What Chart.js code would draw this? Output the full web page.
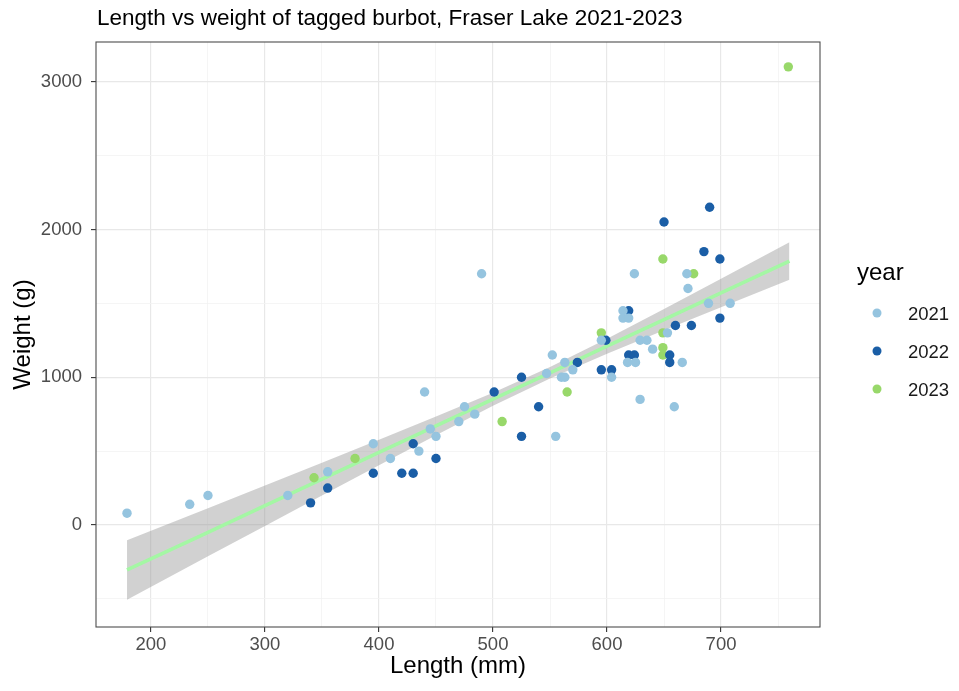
<!DOCTYPE html>
<html>
<head>
<meta charset="utf-8">
<script src="https://cdn.jsdelivr.net/npm/chart.js@4"></script>
<style>
  html, body { margin: 0; padding: 0; background: #fff; }
  #wrap { width: 959px; height: 691px; position: relative; }
</style>
</head>
<body>
<div id="wrap"><canvas id="chart"></canvas></div>
<script>
// points, per year
const x2021 = [179, 234, 250, 320, 355, 395, 410, 435, 440, 445, 450, 470, 475, 484, 490, 547, 552, 555, 560, 563, 563, 570, 595, 604, 614, 614, 619, 618, 625, 624, 629, 629, 635, 640, 653, 659, 666, 670, 671, 689, 708];
const y2021 = [80, 140, 200, 200, 360, 550, 450, 500, 900, 650, 600, 700, 800, 750, 1700, 1025, 1150, 600, 1000, 1000, 1100, 1050, 1250, 1000, 1450, 1400, 1400, 1100, 1100, 1700, 1250, 850, 1250, 1190, 1300, 800, 1100, 1700, 1600, 1500, 1500];
const x2022 = [340, 355, 395, 420, 430, 430, 450, 501, 525, 525, 540, 574, 595, 599, 604, 619, 619, 624, 650, 655, 655, 660, 674, 685, 690, 699, 699];
const y2022 = [150, 250, 350, 350, 350, 550, 450, 900, 600, 1000, 800, 1100, 1050, 1250, 1050, 1450, 1150, 1150, 2050, 1150, 1100, 1350, 1350, 1850, 2150, 1800, 1400];
const x2023 = [343, 379, 508, 565, 595, 649, 649, 649, 649, 676, 759];
const y2023 = [320, 450, 700, 900, 1300, 1800, 1300, 1200, 1150, 1700, 3100];

// smooth line + ribbon
const fitX = [179, 250, 300, 350, 400, 450, 500, 550, 600, 650, 700, 760];
const fitY = [-304, -49, 131, 311, 491, 671, 851, 1030, 1210, 1390, 1570, 1786];
const bandHigh = [-103, 114, 268, 422, 577, 734, 895, 1069, 1261, 1462, 1666, 1913];
const bandLow = [-505, -212, -6, 200, 405, 608, 807, 991, 1159, 1318, 1474, 1659];

const years = ["2021", "2022", "2023"];
const colors = ["#95C4DF", "#1A5EA6", "#98D86A"];

const xTicks = [200, 250, 300, 350, 400, 450, 500, 550, 600, 650, 700, 750];
const yTicks = [-500, 0, 500, 1000, 1500, 2000, 2500, 3000];

const toPts = (xs, ys) => xs.map((x, i) => ({ x: x, y: ys[i] }));

const FONT = "'Liberation Sans', Arial, sans-serif";

const majorX = (v) => v % 100 === 0;
const majorY = (v) => v % 1000 === 0;

const ggExtras = {
  id: "ggExtras",
  afterDraw(chart) {
    const ctx = chart.ctx;
    const a = chart.chartArea;
    ctx.save();
    // panel border
    ctx.strokeStyle = "#4D4D4D";
    ctx.lineWidth = 1.1;
    ctx.strokeRect(a.left, a.top, a.right - a.left, a.bottom - a.top);

    // title
    ctx.fillStyle = "#000";
    ctx.font = "22.5px " + FONT;
    ctx.textAlign = "left";
    ctx.textBaseline = "alphabetic";
    ctx.fillText("Length vs weight of tagged burbot, Fraser Lake 2021-2023", 97, 25);

    // axis titles
    ctx.font = "24px " + FONT;
    ctx.textAlign = "center";
    ctx.fillText("Length (mm)", (a.left + a.right) / 2, 673);
    ctx.save();
    ctx.translate(29.5, (a.top + a.bottom) / 2);
    ctx.rotate(-Math.PI / 2);
    ctx.fillText("Weight (g)", 0, 0);
    ctx.restore();

    // legend
    ctx.textAlign = "left";
    ctx.font = "24px " + FONT;
    ctx.fillText("year", 857, 280);
    ctx.font = "18.5px " + FONT;
    years.forEach((yr, i) => {
      const cy = 313 + i * 38;
      ctx.beginPath();
      ctx.fillStyle = colors[i];
      ctx.arc(877, cy, 4.5, 0, Math.PI * 2);
      ctx.fill();
      ctx.fillStyle = "#1A1A1A";
      ctx.fillText(yr, 908, cy + 7);
    });
    ctx.restore();
  },
};

new Chart(document.getElementById("chart"), {
  type: "scatter",
  data: {
    datasets: [
      ...years.map((yr, i) => ({
        label: yr,
        data: toPts([x2021, x2022, x2023][i], [y2021, y2022, y2023][i]),
        backgroundColor: colors[i],
        borderWidth: 0,
        pointRadius: 4.7,
        pointHoverRadius: 4.7,
        order: 1,
      })),
      {
        type: "line",
        label: "fit",
        data: toPts(fitX, fitY),
        borderColor: "#A4F7A4",
        borderWidth: 3.6,
        pointRadius: 0,
        fill: false,
        order: 2,
      },
      {
        type: "line",
        label: "high",
        data: toPts(fitX, bandHigh),
        borderWidth: 0,
        borderColor: "rgba(0,0,0,0)",
        backgroundColor: "rgba(153,153,153,0.45)",
        pointRadius: 0,
        fill: "+1",
        order: 3,
      },
      {
        type: "line",
        label: "low",
        data: toPts(fitX, bandLow),
        borderWidth: 0,
        borderColor: "rgba(0,0,0,0)",
        pointRadius: 0,
        fill: false,
        order: 4,
      },
    ],
  },
  options: {
    responsive: true,
    maintainAspectRatio: false,
    animation: false,
    layout: { padding: { top: 42, right: 139, left: 0, bottom: 0 } },
    plugins: { legend: { display: false }, tooltip: { enabled: false }, title: { display: false } },
    scales: {
      x: {
        type: "linear",
        min: 151.8,
        max: 786.8,
        afterBuildTicks: (s) => { s.ticks = xTicks.map((v) => ({ value: v })); },
        afterFit: (s) => { s.height = 64; },
        border: { display: false },
        grid: {
          color: (c) => (majorX(c.tick.value) ? "#E8E8E8" : "#F2F2F2"),
          lineWidth: (c) => (majorX(c.tick.value) ? 1.2 : 0.8),
          tickColor: (c) => (majorX(c.tick.value) ? "#333333" : "rgba(0,0,0,0)"),
          tickLength: 5,
          tickWidth: 1.1,
        },
        ticks: {
          color: "#4D4D4D",
          font: { family: FONT, size: 18.5 },
          padding: 2,
          maxRotation: 0,
          autoSkip: false,
          callback: (v) => (majorX(v) ? String(v) : ""),
        },
      },
      y: {
        type: "linear",
        min: -690,
        max: 3268,
        afterBuildTicks: (s) => { s.ticks = yTicks.map((v) => ({ value: v })); },
        afterFit: (s) => { s.width = 96; },
        border: { display: false },
        grid: {
          color: (c) => (majorY(c.tick.value) ? "#E8E8E8" : "#F2F2F2"),
          lineWidth: (c) => (majorY(c.tick.value) ? 1.2 : 0.8),
          tickColor: (c) => (majorY(c.tick.value) ? "#333333" : "rgba(0,0,0,0)"),
          tickLength: 5,
          tickWidth: 1.1,
        },
        ticks: {
          color: "#4D4D4D",
          font: { family: FONT, size: 18.5 },
          padding: 9,
          autoSkip: false,
          callback: (v) => (majorY(v) ? String(v) : ""),
        },
      },
    },
  },
  plugins: [ggExtras],
});
</script>
</body>
</html>
